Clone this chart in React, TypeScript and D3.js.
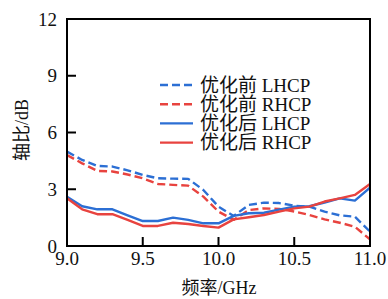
import React from "react";
import * as d3 from "d3";

const freq = [9.0, 9.1, 9.2, 9.3, 9.4, 9.5, 9.6, 9.7, 9.8, 9.9, 10.0, 10.1, 10.2, 10.3, 10.4, 10.5, 10.6, 10.7, 10.8, 10.9, 11.0];
const beforeLHCP = [4.99, 4.55, 4.23, 4.2, 4.0, 3.76, 3.58, 3.56, 3.55, 2.96, 2.08, 1.59, 2.17, 2.29, 2.27, 2.13, 2.08, 1.82, 1.62, 1.55, 0.76];
const beforeRHCP = [4.81, 4.37, 3.97, 3.94, 3.78, 3.58, 3.28, 3.23, 3.19, 2.61, 1.82, 1.38, 1.9, 1.99, 1.96, 1.82, 1.64, 1.41, 1.23, 1.02, 0.35];
const afterLHCP = [2.6, 2.1, 1.94, 1.94, 1.62, 1.32, 1.32, 1.5, 1.38, 1.2, 1.2, 1.59, 1.73, 1.76, 1.92, 2.08, 2.1, 2.3, 2.52, 2.4, 3.08];
const afterRHCP = [2.52, 1.94, 1.68, 1.68, 1.38, 1.06, 1.06, 1.23, 1.16, 1.06, 0.97, 1.41, 1.52, 1.64, 1.82, 1.99, 2.08, 2.35, 2.52, 2.7, 3.28];

const xTicks = [9.0, 9.5, 10.0, 10.5, 11.0];
const yTicks = [0, 3, 6, 9, 12];

const seriesNames = ["优化前 LHCP", "优化前 RHCP", "优化后 LHCP", "优化后 RHCP"];
const seriesData = [beforeLHCP, beforeRHCP, afterLHCP, afterRHCP];

const BLUE = "#2c6fd4";
const RED = "#e8433f";
const styles = [
  { color: BLUE, dash: "8 4" },
  { color: RED, dash: "8 4" },
  { color: BLUE, dash: "" },
  { color: RED, dash: "" },
];

const FONT = "'Liberation Serif', 'Times New Roman', 'Noto Sans CJK SC', serif";

export default function App() {
  const W = 388, H = 299;
  const left = 67, right = 370, top = 19, bottom = 246;
  const x = d3.scaleLinear().domain([9, 11]).range([left, right]);
  const y = d3.scaleLinear().domain([0, 12]).range([bottom, top]);
  const line = d3.line<number>().x((_, i) => x(freq[i])).y((d) => y(d));
  const tickLen = 9;

  return (
    <svg width={W} height={H} style={{ position: "absolute", left: 0, top: 0, background: "#fff" }}>
      <defs>
        <clipPath id="plot">
          <rect x={left} y={top} width={right - left} height={bottom - top} />
        </clipPath>
      </defs>
      <g clipPath="url(#plot)">
        {seriesData.map((s, i) => (
          <path key={i} d={line(s) || ""} fill="none" stroke={styles[i].color} strokeWidth={2.4}
            strokeDasharray={styles[i].dash || undefined} strokeLinejoin="round" />
        ))}
      </g>
      {xTicks.map((t) => (
        <g key={"x" + t}>
          <line x1={x(t)} x2={x(t)} y1={bottom} y2={bottom - tickLen} stroke="#000" strokeWidth={2} />
          <text x={x(t)} y={265} textAnchor="middle" fontFamily={FONT} fontSize={19} fill="#111">{t.toFixed(1)}</text>
        </g>
      ))}
      {yTicks.map((t) => (
        <g key={"y" + t}>
          <line x1={left} x2={left + tickLen} y1={y(t)} y2={y(t)} stroke="#000" strokeWidth={2} />
          <text x={57} y={y(t) + 6.5} textAnchor="end" fontFamily={FONT} fontSize={19} fill="#111">{t}</text>
        </g>
      ))}
      <rect x={left} y={top} width={right - left} height={bottom - top} fill="none" stroke="#000" strokeWidth={2} />
      <text x={219} y={294} textAnchor="middle" fontFamily={FONT} fontSize={18} fill="#111">频率/GHz</text>
      <text transform="translate(28,130) rotate(-90)" textAnchor="middle" fontFamily={FONT} fontSize={18} fill="#111">轴比/dB</text>
      {seriesNames.map((n, i) => {
        const cy = 85 + i * 19.2;
        return (
          <g key={n}>
            <line x1={160} x2={193} y1={cy} y2={cy} stroke={styles[i].color} strokeWidth={2.4}
              strokeDasharray={styles[i].dash || undefined} />
            <text x={200} y={cy + 6.5} fontFamily={FONT} fontSize={19} fill="#111">{n}</text>
          </g>
        );
      })}
    </svg>
  );
}
